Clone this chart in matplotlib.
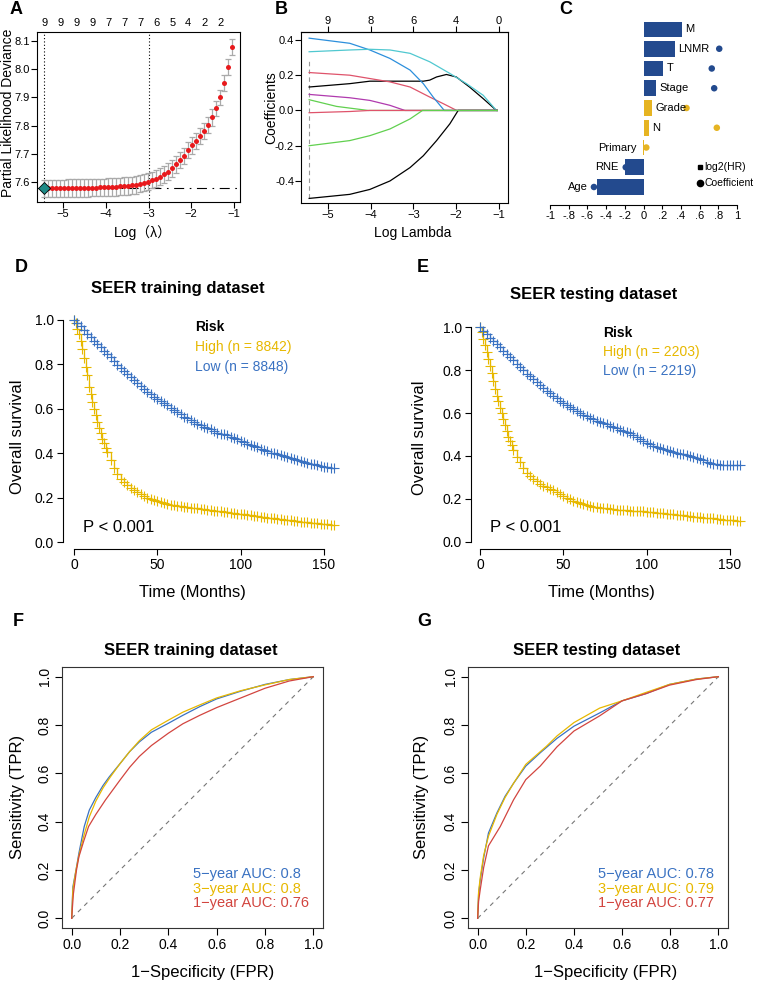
import numpy as np
import matplotlib
matplotlib.use('Agg')
import matplotlib.pyplot as plt
import matplotlib.transforms as mtransforms

plt.rcParams['font.family'] = ['Liberation Sans', 'DejaVu Sans', 'Noto Sans CJK SC']
plt.rcParams['axes.linewidth'] = 0.8
plt.rcParams['xtick.major.width'] = 0.8
plt.rcParams['ytick.major.width'] = 0.8

# ---------------- DATA ----------------
# Panel A: cross-validated partial likelihood deviance
cv_loglambda = [-5.437, -5.344, -5.250, -5.157, -5.063, -4.970, -4.876, -4.783, -4.689, -4.596,
                -4.502, -4.409, -4.315, -4.222, -4.128, -4.035, -3.941, -3.848, -3.754, -3.661,
                -3.567, -3.474, -3.380, -3.287, -3.193, -3.100, -3.006, -2.913, -2.819, -2.726,
                -2.632, -2.539, -2.445, -2.352, -2.258, -2.165, -2.071, -1.978, -1.884, -1.791,
                -1.697, -1.604, -1.510, -1.417, -1.323, -1.230, -1.136, -1.043]
cv_deviance = [7.577, 7.577, 7.577, 7.577, 7.577, 7.577, 7.578, 7.578, 7.578, 7.578,
               7.579, 7.579, 7.580, 7.580, 7.581, 7.581, 7.582, 7.583, 7.583, 7.584,
               7.585, 7.586, 7.588, 7.590, 7.593, 7.597, 7.601, 7.607, 7.612, 7.618,
               7.627, 7.636, 7.648, 7.663, 7.678, 7.692, 7.713, 7.730, 7.746, 7.763,
               7.780, 7.802, 7.829, 7.861, 7.900, 7.950, 8.009, 8.080]
cv_se = [0.031, 0.031, 0.031, 0.031, 0.031, 0.031, 0.031, 0.031, 0.031, 0.031,
         0.031, 0.031, 0.031, 0.031, 0.031, 0.031, 0.031, 0.031, 0.031, 0.031,
         0.031, 0.031, 0.031, 0.031, 0.030, 0.030, 0.030, 0.030, 0.030, 0.030,
         0.030, 0.030, 0.030, 0.030, 0.030, 0.029, 0.029, 0.029, 0.029, 0.029,
         0.029, 0.029, 0.029, 0.028, 0.028, 0.028, 0.028, 0.028]
cv_top_loglambda = [-5.437, -5.063, -4.689, -4.315, -3.941, -3.567, -3.193, -2.819, -2.445, -2.071, -1.697, -1.323]
cv_top_labels = ['9', '9', '9', '9', '7', '7', '7', '6', '5', '4', '2', '2']
lambda_min_log = -5.437
lambda_1se_log = -3.0
cv_xticks = [-5, -4, -3, -2, -1]
cv_yticks = [7.6, 7.7, 7.8, 7.9, 8.0, 8.1]

# Panel B: coefficient paths
p1_x = [-5.44, -4.49, -4.02, -3.55, -2.77, -2.62, -2.46, -2.23, -2.0, -1.69, -1.37, -1.06, -1.04]
p1_y = [0.133, 0.152, 0.166, 0.166, 0.166, 0.172, 0.19, 0.204, 0.19, 0.133, 0.067, 0.0, 0.0]
p2_x = [-5.44, -4.49, -3.55, -3.08, -2.62, -2.30, -1.99, -1.04]
p2_y = [0.215, 0.200, 0.162, 0.133, 0.076, 0.038, 0.0, 0.0]
p3_x = [-5.44, -4.80, -4.06, -1.04]
p3_y = [0.061, 0.023, 0.0, 0.0]
p4_x = [-5.44, -4.49, -4.02, -3.55, -3.08, -2.77, -2.54, -2.28, -1.04]
p4_y = [0.410, 0.381, 0.343, 0.295, 0.229, 0.152, 0.076, 0.0, 0.0]
p5_x = [-5.44, -4.49, -4.02, -3.55, -3.08, -2.62, -2.15, -1.76, -1.37, -1.06, -1.04]
p5_y = [0.333, 0.343, 0.347, 0.343, 0.324, 0.276, 0.210, 0.152, 0.086, 0.0, 0.0]
p6_x = [-5.44, -4.49, -4.02, -3.55, -3.20, -1.04]
p6_y = [0.091, 0.072, 0.057, 0.029, 0.0, 0.0]
p7_x = [-5.44, -4.49, -4.02, -3.55, -3.08, -2.77, -2.46, -2.15, -1.955, -1.04]
p7_y = [-0.499, -0.476, -0.448, -0.400, -0.324, -0.257, -0.171, -0.076, 0.0, 0.0]
p8_x = [-5.44, -4.49, -4.02, -1.04]
p8_y = [-0.013, -0.006, 0.0, 0.0]
p9_x = [-5.44, -4.49, -4.02, -3.55, -3.08, -2.79, -1.04]
p9_y = [-0.200, -0.171, -0.143, -0.105, -0.048, 0.0, 0.0]
path_top_ticks = [-5, -4, -3, -2, -1]
path_top_labels = ['9', '8', '6', '4', '0']
path_yticks = [-0.4, -0.2, 0.0, 0.2, 0.4]

# Panel C: log2(HR) bars and coefficients
c_vars = ['Age', 'RNE', 'Primary', 'N', 'Grade', 'Stage', 'T', 'LNMR', 'M']
c_log2hr = [-0.50, -0.20, -0.008, 0.057, 0.093, 0.135, 0.21, 0.34, 0.41]
c_coef = [-0.53, -0.19, 0.03, 0.784, 0.46, 0.756, 0.73, 0.81, np.nan]
c_group = ['sig', 'sig', 'ns', 'ns', 'ns', 'sig', 'sig', 'sig', 'sig']
c_ticks = [-1, -0.8, -0.6, -0.4, -0.2, 0, 0.2, 0.4, 0.6, 0.8, 1]
c_ticklabels = ['-1', '-.8', '-.6', '-.4', '-.2', '0', '.2', '.4', '.6', '.8', '1']

# Panel D: KM training
d_high_t = [0, 1, 2, 3, 4, 5, 6, 7, 8, 9, 10, 11, 12, 13, 14, 15, 16, 17, 18, 19, 20,
            22, 24, 26, 28, 30, 32, 34, 36, 38, 40, 42, 44, 46, 48, 50, 52, 54, 56, 58, 60,
            62, 64, 66, 68, 70, 72, 74, 76, 78, 80, 82, 84, 86, 88, 90, 92, 94, 96, 98, 100,
            102, 104, 106, 108, 110, 112, 114, 116, 118, 120, 122, 124, 126, 128, 130, 132, 134, 136, 138, 140,
            142, 144, 146, 148, 150, 152, 154, 156]
d_high_s = [1.00, 0.985, 0.96, 0.935, 0.905, 0.87, 0.83, 0.79, 0.75, 0.70, 0.665, 0.63, 0.60, 0.57,
            0.54, 0.515, 0.49, 0.465, 0.445, 0.425, 0.405,
            0.370, 0.335, 0.305, 0.285, 0.270, 0.257, 0.245, 0.235, 0.225, 0.216, 0.207, 0.200, 0.193, 0.188,
            0.183, 0.179, 0.175, 0.172, 0.168, 0.166, 0.163, 0.161, 0.159, 0.157, 0.155, 0.153, 0.151, 0.149,
            0.147, 0.145, 0.143, 0.141, 0.139, 0.138, 0.136, 0.134, 0.132, 0.130, 0.128, 0.126, 0.124, 0.122,
            0.120, 0.118, 0.116, 0.114, 0.112, 0.110, 0.108, 0.106, 0.104, 0.102, 0.100, 0.099, 0.097, 0.096,
            0.094, 0.092, 0.090, 0.089, 0.087, 0.086, 0.084, 0.083, 0.081, 0.080, 0.078, 0.077]
d_low_t = [0, 2, 4, 6, 8, 10, 12, 14, 16, 18, 20, 22, 24, 26, 28, 30, 32, 34, 36, 38, 40,
           42, 44, 46, 48, 50, 52, 54, 56, 58, 60, 62, 64, 66, 68, 70, 72, 74, 76, 78, 80,
           82, 84, 86, 88, 90, 92, 94, 96, 98, 100, 102, 104, 106, 108, 110, 112, 114, 116, 118, 120,
           122, 124, 126, 128, 130, 132, 134, 136, 138, 140, 142, 144, 146, 148, 150, 152, 154, 156]
d_low_s = [1.000, 0.987, 0.972, 0.955, 0.938, 0.922, 0.905, 0.892, 0.877, 0.860, 0.847, 0.832, 0.815,
           0.798, 0.783, 0.770, 0.757, 0.743, 0.730, 0.717, 0.703, 0.690, 0.677, 0.665, 0.655, 0.645,
           0.635, 0.625, 0.615, 0.605, 0.595, 0.585, 0.575, 0.565, 0.558, 0.550, 0.540, 0.533, 0.527,
           0.520, 0.513, 0.507, 0.500, 0.493, 0.488, 0.485, 0.480, 0.475, 0.470, 0.463, 0.457, 0.450,
           0.443, 0.437, 0.432, 0.426, 0.420, 0.414, 0.408, 0.403, 0.400, 0.396, 0.392, 0.388, 0.383,
           0.378, 0.373, 0.368, 0.364, 0.360, 0.357, 0.353, 0.350, 0.347, 0.343, 0.340, 0.337, 0.334, 0.332]
d_n_high, d_n_low = 8842, 8848

# Panel E: KM testing
e_high_t = [0, 1, 2, 3, 4, 5, 6, 7, 8, 9, 10, 11, 12, 13, 14, 15, 16, 17, 18, 19, 20,
            22, 24, 26, 28, 30, 32, 34, 36, 38, 40, 42, 44, 46, 48, 50, 52, 54, 56, 58, 60,
            62, 64, 66, 68, 70, 72, 74, 76, 78, 80, 82, 84, 86, 88, 90, 92, 94, 96, 98, 100,
            102, 104, 106, 108, 110, 112, 114, 116, 118, 120, 122, 124, 126, 128, 130, 132, 134, 136, 138, 140,
            142, 144, 146, 148, 150, 152, 154, 156]
e_high_s = [1.0, 0.975, 0.945, 0.915, 0.885, 0.85, 0.82, 0.785, 0.75, 0.71, 0.68, 0.655, 0.625, 0.60,
            0.57, 0.545, 0.515, 0.49, 0.47, 0.45, 0.43,
            0.395, 0.370, 0.345, 0.320, 0.305, 0.295, 0.285, 0.270, 0.262, 0.255, 0.247, 0.240, 0.231, 0.222,
            0.213, 0.205, 0.198, 0.192, 0.186, 0.180, 0.176, 0.172, 0.168, 0.165, 0.162, 0.160, 0.158, 0.156,
            0.154, 0.152, 0.151, 0.150, 0.148, 0.147, 0.146, 0.145, 0.144, 0.143, 0.142, 0.141, 0.140, 0.139,
            0.137, 0.136, 0.134, 0.132, 0.130, 0.129, 0.127, 0.126, 0.124, 0.122, 0.120, 0.118, 0.116, 0.115,
            0.113, 0.112, 0.111, 0.110, 0.108, 0.106, 0.104, 0.102, 0.101, 0.100, 0.099, 0.098]
e_low_t = [0, 2, 4, 6, 8, 10, 12, 14, 16, 18, 20, 22, 24, 26, 28, 30, 32, 34, 36, 38, 40,
           42, 44, 46, 48, 50, 52, 54, 56, 58, 60, 62, 64, 66, 68, 70, 72, 74, 76, 78, 80,
           82, 84, 86, 88, 90, 92, 94, 96, 98, 100, 102, 104, 106, 108, 110, 112, 114, 116, 118, 120,
           122, 124, 126, 128, 130, 132, 134, 136, 138, 140, 142, 144, 146, 148, 150, 152, 154, 156]
e_low_s = [1.000, 0.983, 0.967, 0.950, 0.935, 0.920, 0.905, 0.890, 0.875, 0.860, 0.845, 0.830, 0.815,
           0.798, 0.783, 0.770, 0.757, 0.743, 0.730, 0.717, 0.704, 0.693, 0.681, 0.669, 0.657, 0.646,
           0.636, 0.627, 0.618, 0.609, 0.600, 0.593, 0.586, 0.578, 0.571, 0.565, 0.558, 0.553, 0.547,
           0.540, 0.535, 0.529, 0.523, 0.516, 0.510, 0.505, 0.496, 0.487, 0.478, 0.469, 0.461, 0.455,
           0.448, 0.442, 0.436, 0.431, 0.426, 0.422, 0.417, 0.413, 0.410, 0.407, 0.403, 0.398, 0.394,
           0.390, 0.385, 0.380, 0.374, 0.369, 0.365, 0.362, 0.360, 0.360, 0.360, 0.360, 0.360, 0.360, 0.360]
e_n_high, e_n_low = 2203, 2219
km_xticks = [0, 50, 100, 150]
km_yticks = [0.0, 0.2, 0.4, 0.6, 0.8, 1.0]

# Panel F: ROC training
f5_fpr = [0, 0.005, 0.018, 0.03, 0.052, 0.073, 0.10, 0.13, 0.156, 0.2, 0.24, 0.28, 0.33, 0.4, 0.46, 0.53, 0.6, 0.7, 0.8, 0.9, 1.0]
f5_tpr = [0, 0.13, 0.20, 0.27, 0.38, 0.448, 0.50, 0.55, 0.586, 0.64, 0.69, 0.73, 0.77, 0.807, 0.84, 0.876, 0.908, 0.94, 0.968, 0.988, 1.0]
f3_fpr = [0, 0.005, 0.018, 0.03, 0.05, 0.073, 0.10, 0.13, 0.16, 0.2, 0.24, 0.28, 0.33, 0.4, 0.46, 0.53, 0.6, 0.7, 0.8, 0.9, 1.0]
f3_tpr = [0, 0.12, 0.20, 0.26, 0.34, 0.42, 0.485, 0.54, 0.585, 0.64, 0.69, 0.735, 0.78, 0.82, 0.853, 0.883, 0.912, 0.942, 0.966, 0.988, 1.0]
f1_fpr = [0, 0.007, 0.02, 0.03, 0.05, 0.07, 0.10, 0.14, 0.2, 0.24, 0.28, 0.33, 0.4, 0.46, 0.53, 0.6, 0.67, 0.8, 0.9, 1.0]
f1_tpr = [0, 0.10, 0.20, 0.255, 0.32, 0.38, 0.43, 0.49, 0.572, 0.625, 0.67, 0.715, 0.766, 0.805, 0.84, 0.872, 0.90, 0.952, 0.982, 1.0]
f_auc = ['0.8', '0.8', '0.76']

# Panel G: ROC testing
g5_fpr = [0, 0.004, 0.011, 0.025, 0.045, 0.08, 0.114, 0.15, 0.2, 0.26, 0.33, 0.4, 0.507, 0.6, 0.7, 0.797, 0.908, 1.0]
g5_tpr = [0, 0.10, 0.159, 0.25, 0.353, 0.436, 0.505, 0.56, 0.63, 0.685, 0.745, 0.795, 0.85, 0.9, 0.93, 0.968, 0.99, 1.0]
g3_fpr = [0, 0.004, 0.011, 0.025, 0.045, 0.08, 0.114, 0.15, 0.2, 0.287, 0.33, 0.4, 0.507, 0.6, 0.7, 0.797, 0.908, 1.0]
g3_tpr = [0, 0.11, 0.17, 0.26, 0.34, 0.43, 0.50, 0.56, 0.637, 0.713, 0.755, 0.81, 0.87, 0.90, 0.935, 0.968, 0.99, 1.0]
g1_fpr = [0, 0.004, 0.011, 0.025, 0.045, 0.094, 0.149, 0.2, 0.26, 0.33, 0.4, 0.507, 0.6, 0.7, 0.797, 0.908, 1.0]
g1_tpr = [0, 0.07, 0.12, 0.21, 0.30, 0.38, 0.49, 0.574, 0.63, 0.71, 0.775, 0.838, 0.9, 0.93, 0.965, 0.988, 1.0]
g_auc = ['0.78', '0.79', '0.77']
roc_ticks = [0.0, 0.2, 0.4, 0.6, 0.8, 1.0]

# ---------------- STYLE ----------------
W, H = 757, 983
fig = plt.figure(figsize=(W / 100, H / 100), dpi=100)

def add_ax(l, t, r, b):
    return fig.add_axes([l / W, 1 - b / H, (r - l) / W, (b - t) / H])

def ftext(x, y, s, **kw):
    kw.setdefault('ha', 'center')
    kw.setdefault('va', 'center')
    return fig.text(x / W, 1 - y / H, s, **kw)

YEL = '#E7B800'
BLU = '#3A72C2'
RED = '#D2453F'
CBLUE = '#234A8E'
CYEL = '#E6B422'
path_cols = ['#000000', '#DF536B', '#61D04F', '#2C8FDC', '#50C8D0', '#B03AAE', '#000000', '#DF536B', '#61D04F']

# panel letters
for lab, x, y in [('A', 10, 9), ('B', 275, 9), ('C', 559, 9), ('D', 15, 267), ('E', 417, 267),
                  ('F', 13, 622), ('G', 417, 622)]:
    ftext(x, y, lab, ha='left', fontsize=13, fontweight='bold')

# ---------------- A ----------------
axA = add_ax(37, 32, 240, 202)
axA.errorbar(cv_loglambda, cv_deviance, yerr=cv_se, fmt='none', ecolor='#AAAAAA',
             elinewidth=0.9, capsize=2.2, capthick=0.9, zorder=2)
axA.plot(cv_loglambda, cv_deviance, 'o', color='#E8191C', ms=3.6, mec='none', zorder=3)
axA.axvline(lambda_min_log, color='black', ls=(0, (1, 2)), lw=0.8, zorder=1)
axA.axvline(lambda_1se_log, color='black', ls=(0, (1, 2)), lw=0.8, zorder=1)
axA.axhline(min(cv_deviance), color='black', ls=(0, (9, 5, 1.5, 5)), lw=0.8, zorder=1)
axA.plot([cv_loglambda[0]], [cv_deviance[0]], 'D', color='#1E8A86', mec='black', mew=0.6, ms=6, zorder=4)
axA.set_xlim(-5.61, -0.86)
axA.set_ylim(7.529, 8.132)
axA.set_xticks(cv_xticks)
axA.set_yticks(cv_yticks)
axA.set_yticklabels([f'{v:.1f}' for v in cv_yticks])
axA.tick_params(axis='both', labelsize=8, length=4, pad=1)
trA = mtransforms.blended_transform_factory(axA.transData, fig.transFigure)
for xv, lb in zip(cv_top_loglambda, cv_top_labels):
    axA.text(xv, 1 - 23 / H, lb, transform=trA, ha='center', va='center', fontsize=8)
ftext(8, 113, 'Partial Likelihood Deviance', rotation=90, fontsize=10)
ftext(143, 233, 'Log（λ）', fontsize=10, family=['Liberation Sans', 'Noto Sans CJK SC'])

# ---------------- B ----------------
axB = add_ax(301, 32, 508, 203)
paths = [(p1_x, p1_y), (p2_x, p2_y), (p3_x, p3_y), (p4_x, p4_y), (p5_x, p5_y),
         (p6_x, p6_y), (p7_x, p7_y), (p8_x, p8_y), (p9_x, p9_y)]
axB.axvline(-5.44, ymin=0.03, ymax=0.85, color='#999999', ls=(0, (4, 3)), lw=0.8)
for (px, py), col in zip(paths, path_cols):
    axB.plot(px, py, color=col, lw=0.9)
axB.set_xlim(-5.63, -0.79)
axB.set_ylim(-0.525, 0.445)
axB.set_xticks(cv_xticks)
axB.set_yticks(path_yticks)
axB.set_yticklabels([f'{v:.1f}' for v in path_yticks])
axB.tick_params(axis='both', labelsize=8, length=4, pad=1)
secB = axB.secondary_xaxis('top')
secB.set_xticks(path_top_ticks)
secB.set_xticklabels(path_top_labels)
secB.tick_params(labelsize=8, length=4, pad=0.5)
ftext(271, 108, 'Coefficients', rotation=90, fontsize=10)
ftext(413, 233, 'Log Lambda', fontsize=10)

# ---------------- C ----------------
axC = add_ax(550, 22, 737, 205)
rows = np.arange(len(c_vars))
bcols = [CBLUE if g == 'sig' else CYEL for g in c_group]
axC.barh(rows, c_log2hr, height=0.8, color=bcols, zorder=2)
axC.scatter(c_coef, rows, s=22, c=bcols, zorder=3, edgecolors='none')
for i, (nm, v, cf) in enumerate(zip(c_vars, c_log2hr, c_coef)):
    if v >= 0:
        axC.text(v + 0.035, i, nm, ha='left', va='center', fontsize=8)
    else:
        edge = min(v, cf) if not np.isnan(cf) else v
        axC.text(edge - 0.065, i, nm, ha='right', va='center', fontsize=8)
axC.set_xlim(-1, 1)
axC.set_ylim(-0.911, 8.354)
for s in ['top', 'right', 'left']:
    axC.spines[s].set_visible(False)
axC.set_yticks([])
axC.set_xticks(c_ticks)
axC.set_xticklabels(c_ticklabels)
axC.tick_params(axis='x', labelsize=8, length=3, pad=1.5)
axC.plot([0.6], [1.0], 's', color='black', ms=3.5, clip_on=False)
axC.plot([0.6], [0.2], 'o', color='black', ms=4.5, clip_on=False)
axC.text(0.65, 1.0, 'log2(HR)', ha='left', va='center', fontsize=7.5, clip_on=False)
axC.text(0.65, 0.2, 'Coefficient', ha='left', va='center', fontsize=7.5, clip_on=False)

# ---------------- D / E ----------------
def km_panel(ax, ht, hs, lt, ls_, x0, ylo, yhi):
    ax.plot(ht, hs, color=YEL, lw=0.9, drawstyle='steps-post')
    ax.plot(ht, hs, ls='none', color=YEL, marker='+', ms=7, mew=0.8)
    ax.plot(lt, ls_, color=BLU, lw=0.9, drawstyle='steps-post')
    ax.plot(lt, ls_, ls='none', color=BLU, marker='+', ms=7.5, mew=0.8)
    ax.set_xlim(x0, 159.6)
    ax.set_ylim(ylo, yhi)
    for s in ['top', 'right']:
        ax.spines[s].set_visible(False)
    ax.spines['left'].set_bounds(0, 1)
    ax.spines['bottom'].set_bounds(0, 150)
    ax.set_xticks(km_xticks)
    ax.set_yticks(km_yticks)
    ax.set_yticklabels([f'{v:.1f}' for v in km_yticks])
    ax.tick_params(axis='both', labelsize=10, length=4.5, pad=2)

axD = add_ax(63, 313, 340, 549)
km_panel(axD, d_high_t, d_high_s, d_low_t, d_low_s, -6.6, -0.0315, 1.0315)
axE = add_ax(471, 320, 746, 549)
km_panel(axE, e_high_t, e_high_s, e_low_t, e_low_s, -5.4, -0.0326, 1.0326)

ftext(178, 289, 'SEER training dataset', fontsize=12, fontweight='bold')
ftext(594, 295, 'SEER testing dataset', fontsize=12, fontweight='bold')
ftext(18, 437, 'Overall survival', rotation=90, fontsize=12)
ftext(420, 438, 'Overall survival', rotation=90, fontsize=12)
ftext(192, 593, 'Time (Months)', fontsize=12)
ftext(601, 592, 'Time (Months)', fontsize=12)
ftext(195, 327, 'Risk', ha='left', fontsize=10, fontweight='bold')
ftext(195, 347, f'High (n = {d_n_high})', ha='left', fontsize=10, color=YEL)
ftext(195, 367, f'Low (n = {d_n_low})', ha='left', fontsize=10, color=BLU)
ftext(603, 333, 'Risk', ha='left', fontsize=10, fontweight='bold')
ftext(603, 352, f'High (n = {e_n_high})', ha='left', fontsize=10, color=YEL)
ftext(603, 371, f'Low (n = {e_n_low})', ha='left', fontsize=10, color=BLU)
ftext(83, 528, 'P < 0.001', ha='left', fontsize=12)
ftext(490, 528, 'P < 0.001', ha='left', fontsize=12)

# ---------------- F / G ----------------
def roc_panel(ax, c5, c3, c1):
    ax.plot([0, 1], [0, 1], color='#777777', ls=(0, (4, 4)), lw=0.8)
    ax.plot(c5[0], c5[1], color=BLU, lw=0.9)
    ax.plot(c3[0], c3[1], color=YEL, lw=0.9)
    ax.plot(c1[0], c1[1], color=RED, lw=0.9)
    ax.set_xlim(-0.04, 1.04)
    ax.set_ylim(-0.04, 1.04)
    ax.set_xticks(roc_ticks)
    ax.set_yticks(roc_ticks)
    ax.set_xticklabels([f'{v:.1f}' for v in roc_ticks])
    ax.set_yticklabels([f'{v:.1f}' for v in roc_ticks], rotation=90, va='center')
    ax.tick_params(axis='both', labelsize=10, length=5, pad=2.5)
    for s in ax.spines.values():
        s.set_color('#333333')

axF = add_ax(62, 667, 323, 928)
roc_panel(axF, (f5_fpr, f5_tpr), (f3_fpr, f3_tpr), (f1_fpr, f1_tpr))
axG = add_ax(468, 667, 728, 928)
roc_panel(axG, (g5_fpr, g5_tpr), (g3_fpr, g3_tpr), (g1_fpr, g1_tpr))

ftext(191, 650, 'SEER training dataset', fontsize=12, fontweight='bold')
ftext(597, 650, 'SEER testing dataset', fontsize=12, fontweight='bold')
ftext(18, 797, 'Sensitivity (TPR)', rotation=90, fontsize=12)
ftext(422, 797, 'Sensitivity (TPR)', rotation=90, fontsize=12)
ftext(203, 972, '1\u2212Specificity (FPR)', fontsize=12)
ftext(606, 973, '1\u2212Specificity (FPR)', fontsize=12)
for x0, aucs in [(193, f_auc), (598, g_auc)]:
    ftext(x0, 874, f'5\u2212year AUC: {aucs[0]}', ha='left', fontsize=10.5, color=BLU)
    ftext(x0, 889, f'3\u2212year AUC: {aucs[1]}', ha='left', fontsize=10.5, color=YEL)
    ftext(x0, 903, f'1\u2212year AUC: {aucs[2]}', ha='left', fontsize=10.5, color=RED)

fig.savefig('out.png', dpi=100)
